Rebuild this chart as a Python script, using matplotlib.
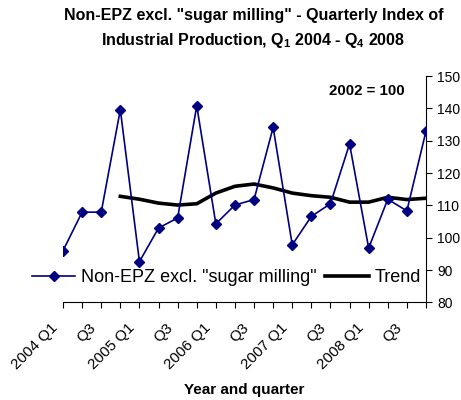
import matplotlib
matplotlib.use("Agg")
import matplotlib.pyplot as plt
from matplotlib.transforms import ScaledTranslation

# ------------------------------------------------------------
# Data
# ------------------------------------------------------------

quarters = [
    "2004 Q1", "Q2", "Q3", "Q4",
    "2005 Q1", "Q2", "Q3", "Q4",
    "2006 Q1", "Q2", "Q3", "Q4",
    "2007 Q1", "Q2", "Q3", "Q4",
    "2008 Q1", "Q2", "Q3", "Q4",
]

index_values = [
    96.0, 107.9, 107.9, 139.6,
    92.6, 103.0, 106.1, 140.8,
    104.3, 110.1, 111.8, 134.1,
    97.8, 106.6, 110.5, 129.0,
    96.8, 111.9, 108.3, 132.9,
]

# trend starts at 2004 Q4
trend_values = [
    None, None, None, 112.8,
    111.9, 110.7, 110.1, 110.5,
    113.8, 115.9, 116.6, 115.4,
    113.8, 113.0, 112.5, 111.0,
    111.0, 112.5, 111.8, 112.2,
]

# only every other quarter is labelled
tick_labels = [q if i % 2 == 0 else "" for i, q in enumerate(quarters)]

# ------------------------------------------------------------
# Plot settings
# ------------------------------------------------------------

plt.rcParams["font.family"] = ["Liberation Sans", "DejaVu Sans"]
plt.rcParams["mathtext.fontset"] = "custom"
plt.rcParams["mathtext.rm"] = "Liberation Sans"
plt.rcParams["mathtext.bf"] = "Liberation Sans:bold"

fig = plt.figure(figsize=(4.61, 4.0), dpi=100)
ax = fig.add_axes([0.1367, 0.244, 0.7873, 0.566])

x = list(range(len(quarters)))
trend_x = [i for i, v in enumerate(trend_values) if v is not None]
trend_y = [v for v in trend_values if v is not None]

ax.plot(
    x,
    index_values,
    color="#000080",
    linewidth=1.2,
    marker="D",
    markersize=5.5,
    label='Non-EPZ excl. "sugar milling"',
    zorder=3,
)
ax.plot(
    trend_x,
    trend_y,
    color="black",
    linewidth=2.6,
    label="Trend",
    zorder=2,
)

ax.set_xlim(0, len(quarters) - 1)
ax.set_ylim(80, 150)
ax.set_yticks(range(80, 151, 10))

ax.yaxis.tick_right()
ax.spines["left"].set_visible(False)
ax.spines["top"].set_visible(False)
ax.tick_params(axis="y", labelsize=10, length=4, direction="out", pad=4)
ax.tick_params(axis="x", length=4, direction="out", labelsize=11, pad=9)

ax.set_xticks(x)
ax.set_xticklabels(tick_labels, rotation=45, ha="right", va="top",
                   rotation_mode="anchor")

# nudge the slanted labels to the left, as in the original
shift = ScaledTranslation(-0.12, 0, fig.dpi_scale_trans)
for lab in ax.get_xticklabels():
    lab.set_transform(lab.get_transform() + shift)

ax.set_xlabel("Year and quarter", fontsize=11, fontweight="bold",
              va="center")
ax.xaxis.set_label_coords(0.5, -0.386)

ax.text(0.837, 0.935, "2002 = 100", transform=ax.transAxes,
        fontsize=10.8, fontweight="bold", ha="center", va="center")

ax.legend(
    loc="center",
    bbox_to_anchor=(0.45, 0.11),
    ncol=2,
    frameon=False,
    fontsize=13,
    handlelength=2.4,
    handletextpad=0.3,
    columnspacing=0.5,
    borderaxespad=0,
)

fig.text(
    0.55,
    0.928,
    'Non-EPZ excl. "sugar milling" - Quarterly Index of\n'
    r'Industrial Production, Q$_\mathbf{1}$ 2004 - Q$_\mathbf{4}$ 2008',
    ha="center",
    va="center",
    fontsize=11.5,
    fontweight="bold",
    linespacing=1.6,
)

fig.savefig("out.png", dpi=100)
plt.close(fig)
